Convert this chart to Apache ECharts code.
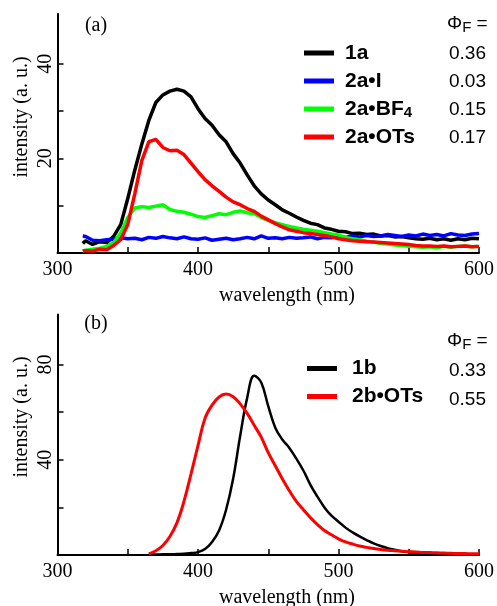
<!DOCTYPE html>
<html><head><meta charset="utf-8">
<script src="https://cdn.jsdelivr.net/npm/echarts@6/dist/echarts.min.js"></script>
<style>html,body{margin:0;padding:0;background:#fff}#c{width:497px;height:606px}</style>
</head><body><div id="c"></div><script>
// ---- panel (a) data ----
const wlA = [318,320,325,330,335,340,345,350,355,360,365,370,375,380,385,390,395,400,405,410,415,420,425,430,435,440,445,450,455,460,465,470,475,480,485,490,495,500,505,510,515,520,525,530,535,540,545,550,555,560,565,570,575,580,585,590,595,600];
const s1a = [2.0,2.6,1.8,2.4,2.2,3.5,6.0,11.5,17.5,23.0,28.0,31.8,33.4,34.2,34.6,34.2,33.0,30.5,28.4,27.0,25.0,23.5,21.0,19.0,16.5,14.2,12.5,11.2,10.2,9.1,8.4,7.6,6.9,6.3,6.0,5.3,5.0,4.6,4.5,4.1,4.2,3.9,4.0,3.6,3.7,3.4,3.5,3.2,3.0,2.9,3.1,2.8,3.0,2.7,3.0,2.8,3.1,3.0];
const s2aI = [3.6,3.5,2.7,2.6,2.8,2.9,3.2,3.0,3.1,2.8,3.3,3.1,3.5,3.2,3.0,3.4,3.0,2.9,3.2,2.7,2.9,3.1,2.8,3.0,3.3,3.0,3.6,3.1,3.2,3.0,3.3,3.1,3.2,3.4,3.0,3.3,3.2,3.5,3.3,3.6,3.4,3.7,3.5,3.6,3.9,3.7,3.5,3.8,3.6,4.0,3.7,3.9,3.6,4.1,3.8,3.7,4.0,4.1];
const s2aBF4 = [0.4,0.6,0.8,1.0,1.4,2.2,4.2,7.5,9.5,9.8,9.6,9.9,10.2,9.2,8.8,8.6,8.2,7.7,7.5,7.9,8.3,8.1,8.6,8.9,8.5,8.3,7.5,6.9,6.4,6.0,5.6,5.3,5.0,4.8,4.6,4.3,4.0,3.8,3.3,3.0,2.8,2.5,2.3,2.0,1.9,1.7,1.6,1.4,1.3,1.2,1.3,1.1,1.4,1.2,1.4,1.5,1.3,1.4];
const s2aOTs = [0.4,0.5,0.4,0.8,0.7,1.6,2.8,6.0,12.5,19.5,23.5,24.0,22.3,21.6,21.7,20.8,19.0,17.2,15.5,14.2,13.0,11.8,10.8,10.2,9.4,8.8,7.8,7.0,6.2,5.5,4.9,4.6,4.3,4.1,3.9,3.7,3.4,3.0,2.8,2.6,2.5,2.4,2.3,2.2,2.1,2.0,1.9,1.8,1.6,1.5,1.5,1.4,1.5,1.3,1.4,1.5,1.3,1.4];
// ---- panel (b) data ----
const wlB = [365,370,375,380,385,390,395,400,405,410,415,420,425,430,435,440,445,450,455,460,465,470,475,480,485,490,495,500,505,510,515,520,525,530,535,540,545,550,555,560,565,570,575,580,585,590,595,600];
const s1b = [0.2,0.2,0.3,0.3,0.4,0.5,0.8,1.2,2.5,5.5,10.3,19.0,32.0,50.0,66.0,75.3,72.5,62.5,53.5,48.5,45.0,40.5,35.5,29.5,24.5,20.0,16.5,14.0,11.5,9.5,7.8,6.3,4.9,3.8,2.9,2.2,1.6,1.2,0.9,0.7,0.6,0.5,0.4,0.3,0.3,0.2,0.2,0.2];
const s2bOTs = [0.5,1.8,4.0,7.8,13.5,22.5,34.0,46.0,57.5,63.0,66.4,67.6,66.5,63.5,59.5,54.5,49.5,43.0,37.5,32.0,27.0,22.5,19.0,15.7,12.8,10.3,8.5,6.8,5.5,4.6,3.8,3.2,2.7,2.3,2.0,1.8,1.6,1.4,1.3,1.1,1.0,0.9,0.8,0.7,0.6,0.6,0.5,0.5];
// ---- labels ----
const namesA = ['1a','2a•I','2a•BF4','2a•OTs'];
const phiA = ['0.36','0.03','0.15','0.17'];
const namesB = ['1b','2b•OTs'];
const phiB = ['0.33','0.55'];
const xTickVals = [350,400,450,500,550,600];
const xLabelVals = [300,400,500,600];
const yTickA = [10,20,30,40], yLabelA = [20,40];
const yTickB = [20,40,60,80], yLabelB = [40,80];

const SERIF = "'Liberation Serif','Times New Roman',serif";
const SANS = "'Liberation Sans',Arial,sans-serif";
const zip = (xs, ys) => xs.map((x, i) => [x, ys[i]]);

function xAx(gi){
  return {type:'value', gridIndex:gi, min:300, max:600,
    axisLine:{show:true, lineStyle:{color:'#000', width:2}},
    axisTick:{show:true, inside:true, length:6, customValues:xTickVals, lineStyle:{color:'#000', width:1.5}},
    axisLabel:{margin:7, color:'#000', fontFamily:SERIF, fontSize:20, customValues:xLabelVals},
    splitLine:{show:false}};
}
function yAx(gi, max, ticks, labels){
  return {type:'value', gridIndex:gi, min:0, max:max,
    axisLine:{show:true, lineStyle:{color:'#000', width:2}},
    axisTick:{show:true, inside:true, length:6, customValues:ticks, lineStyle:{color:'#000', width:1.5}},
    axisLabel:{rotate:90, margin:2, color:'#000', fontFamily:SERIF, fontSize:20, customValues:labels},
    splitLine:{show:false}};
}
function ln(name, gi, xs, ys, color, w, smooth){
  return {type:'line', name:name, xAxisIndex:gi, yAxisIndex:gi, data:zip(xs, ys), symbol:'none',
    smooth: smooth ? 0.4 : false,
    color:color, itemStyle:{color:color}, lineStyle:{color:color, width:w}, emphasis:{disabled:true}};
}
const legendText = (padL) => ({color:'#000', fontFamily:SANS, fontSize:21, fontWeight:'bold', lineHeight:22, padding:[0,0,0,padL],
  rich:{m:{fontFamily:SANS, fontSize:21, fontWeight:'bold', lineHeight:22},
        s:{fontFamily:SANS, fontSize:15, fontWeight:'bold', verticalAlign:'bottom', lineHeight:13}}});
const fmt = n => n === '2a•BF4' ? '{m|2a•BF}{s|4}' : '{m|' + n + '}';

const phiHeader = (y) => ({type:'text', x:447, y:y, style:{text:'{p|Φ}{s|F}{p| =}', verticalAlign:'middle', fill:'#000',
  rich:{p:{fontFamily:SANS, fontSize:19, lineHeight:22, fill:'#000'}, s:{fontFamily:SANS, fontSize:15, verticalAlign:'bottom', lineHeight:8, fill:'#000'}}}});
const valText = (t, y) => ({type:'text', x:486, y:y, style:{text:t, fill:'#000', font:"19px 'Liberation Sans', Arial, sans-serif", align:'right', verticalAlign:'middle'}});
const serifText = (t, x, y, rot) => ({type:'text', x:x, y:y, rotation:rot||0, style:{text:t, fill:'#000', font:"20px 'Liberation Serif', 'Times New Roman', serif", align:'center', verticalAlign:'middle'}});

const graphics = [
  serifText('(a)', 96, 26), serifText('(b)', 96, 324),
  serifText('intensity (a. u.)', 22, 117, Math.PI/2), serifText('intensity (a. u.)', 22, 417, Math.PI/2),
  serifText('wavelength (nm)', 287, 296), serifText('wavelength (nm)', 287, 598),
  phiHeader(24), phiHeader(341)
];
phiA.forEach((t, i) => graphics.push(valText(t, 53.5 + i * 28)));
phiB.forEach((t, i) => graphics.push(valText(t, 371 + i * 28.5)));

const chart = echarts.init(document.getElementById('c'), null, {renderer:'canvas'});
chart.setOption({
  animation:false,
  backgroundColor:'#fff',
  grid:[{left:57.5, right:15, top:14, bottom:353}, {left:57.5, right:15, top:314.6, bottom:51}],
  xAxis:[xAx(0), xAx(1)],
  yAxis:[yAx(0, 50.5, yTickA, yLabelA), yAx(1, 101, yTickB, yLabelB)],
  legend:[
    {data:namesA, orient:'vertical', left:304, top:42, padding:0, itemWidth:30, itemHeight:5, itemGap:6, icon:'rect', selectedMode:false, formatter:fmt, textStyle:legendText(6)},
    {data:namesB, orient:'vertical', left:307, top:357.5, padding:0, itemWidth:30, itemHeight:5, itemGap:6, icon:'rect', selectedMode:false, formatter:fmt, textStyle:legendText(10)}
  ],
  graphic: graphics,
  series:[
    ln(namesA[0], 0, wlA, s1a, '#000000', 3.5),
    ln(namesA[1], 0, wlA, s2aI, '#0000ff', 3.5),
    ln(namesA[2], 0, wlA, s2aBF4, '#00ff00', 3.5),
    ln(namesA[3], 0, wlA, s2aOTs, '#ff0000', 3.5),
    ln(namesB[0], 1, wlB, s1b, '#000000', 2.5, true),
    ln(namesB[1], 1, wlB, s2bOTs, '#ff0000', 3, true)
  ]
});
</script></body></html>
